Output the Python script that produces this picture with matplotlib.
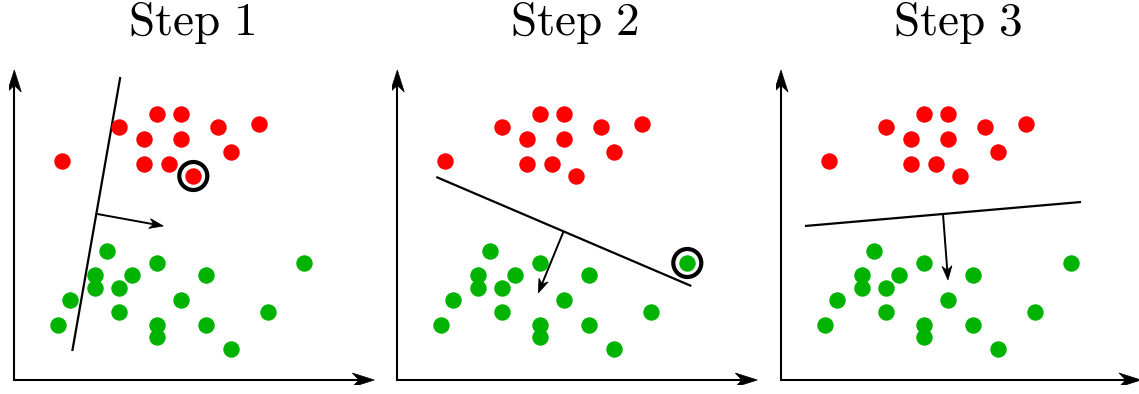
import matplotlib
matplotlib.use("Agg")
import matplotlib.pyplot as plt
from matplotlib.patches import Circle, Polygon
import numpy as np

plt.rcParams['mathtext.fontset'] = 'cm'

# point clouds (same in every step), panel units
red_x = [48, 105, 143, 167, 130, 167, 204, 245, 217, 130, 155, 179]
red_y = [219, 253, 266, 266, 241, 241, 253, 256, 228, 216, 216, 204]
green_x = [93, 143, 290, 81, 118, 192, 81, 105, 56, 167, 105, 254, 44, 143, 192, 143, 217]
green_y = [129, 117, 117, 105, 105, 105, 92, 92, 80, 80, 68, 68, 55, 55, 55, 43, 31]

titles = ['Step 1', 'Step 2', 'Step 3']
# separating line per step: (x0, y0, x1, y1)
lines = [(106, 303, 58, 29), (39, 203, 294, 94), (24, 154, 300, 178)]
# normal vector per step: (x0, y0, x1, y1)
normals = [(83, 166, 149, 154), (166, 148, 141, 87), (162, 166, 167, 100)]
# circled point per step (None = no circle)
circled = [(179, 204), (290, 117), None]

offsets = [14.3, 397.3, 781.0]
W, H = 1139, 394


def stealth(ax, x0, y0, x1, y1, length, half, lw):
    # line with a stealth (concave back) arrow head, in pixel-like units
    d = np.array([x1 - x0, y1 - y0], float)
    d /= np.hypot(*d)
    n = np.array([-d[1], d[0]])
    tip = np.array([x1, y1], float)
    back = tip - d * length
    notch = tip - d * length * 0.7
    ax.plot([x0, notch[0]], [y0, notch[1]], color='black', lw=lw, solid_capstyle='butt')
    pts = [tip, back + n * half, notch, back - n * half]
    ax.add_patch(Polygon(pts, closed=True, color='black', lw=0.5, zorder=5))


fig = plt.figure(figsize=(W / 100, H / 100), dpi=100)

for i, off in enumerate(offsets):
    ax = fig.add_axes([(off - 5) / W, (H - 385) / H, 375 / W, 330 / H])
    ax.set_xlim(-5, 370)
    ax.set_ylim(-5, 325)
    ax.set_aspect('equal')
    ax.axis('off')

    # axes arrows
    stealth(ax, 0, -0.7, 0, 310, 22, 7, 1.5)
    stealth(ax, -0.7, 0, 360, 0, 22, 7, 1.5)

    ax.scatter(red_x, red_y, s=140, color='#ff0000', linewidths=0, zorder=3)
    ax.scatter(green_x, green_y, s=140, color='#00b300', linewidths=0, zorder=3)

    x0, y0, x1, y1 = lines[i]
    ax.plot([x0, x1], [y0, y1], color='black', lw=1.6, solid_capstyle='butt')

    nx0, ny0, nx1, ny1 = normals[i]
    stealth(ax, nx0, ny0, nx1, ny1, 14, 5, 1.4)

    if circled[i] is not None:
        ax.add_patch(Circle(circled[i], 14, fill=False, lw=3, color='black', zorder=4))

    fig.text((off + 177) / W, (H - 35) / H, r'$\mathrm{%s}$' % titles[i].replace(' ', r'\ '),
             ha='center', va='baseline', fontsize=34)

fig.savefig('out.png', dpi=100)
